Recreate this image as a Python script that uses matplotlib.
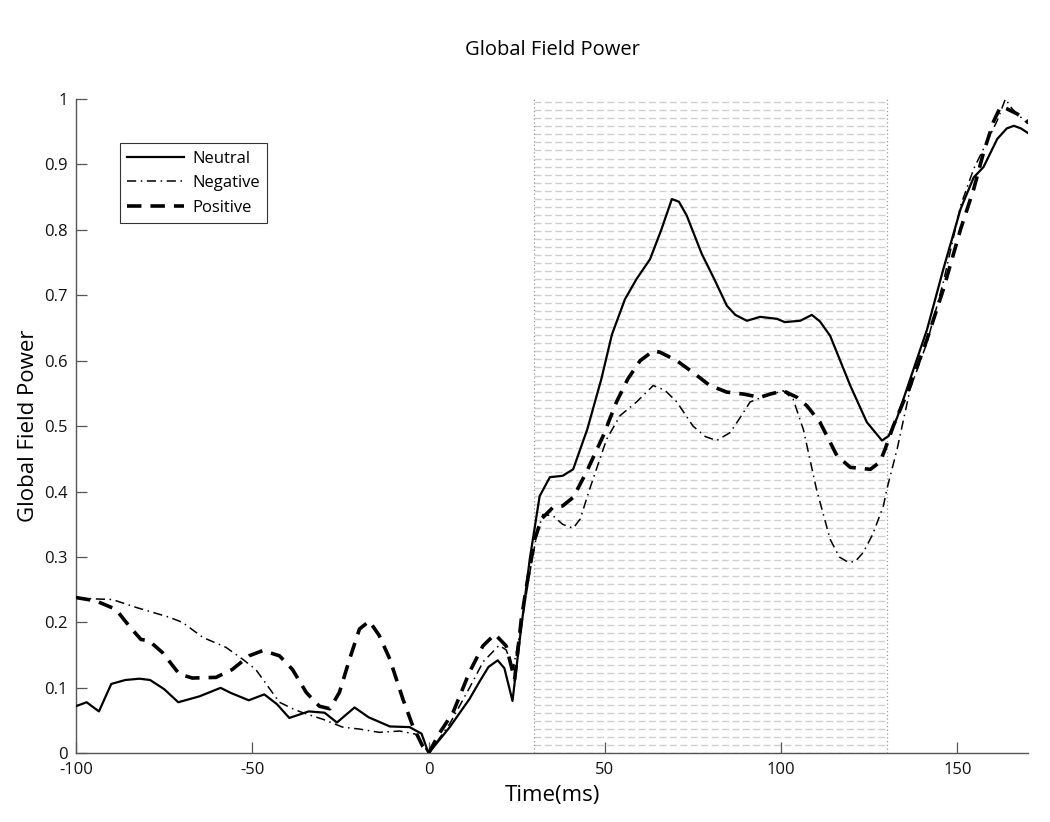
import numpy as np
import matplotlib
matplotlib.use("Agg")
import matplotlib.pyplot as plt

plt.rcParams['font.family'] = ['Open Sans', 'DejaVu Sans']

# ---- data ----
neutral_t = [-100, -97, -93.5, -90, -86, -82, -79, -75, -71, -65, -59, -56, -51, -46.6, -43, -39.5,
             -34, -29.5, -26, -21, -17, -11, -5.4, -2, 0, 6, 11.6, 14.5, 17, 19.6, 21.5, 23.8, 26,
             28.7, 31.5, 34.4, 38, 41, 45, 49, 52, 55.7, 59, 62.8, 66, 69, 71, 73.2, 77.5, 81, 84.6,
             87, 90.3, 94, 98.8, 101, 105.4, 108.7, 111, 113.9, 119.6, 124.3, 128.6, 130.5, 132.9,
             136.6, 141.4, 146, 150.9, 154.6, 157.4, 161.3, 164, 166, 168, 170]
neutral_v = [0.072, 0.078, 0.064, 0.106, 0.112, 0.114, 0.112, 0.098, 0.078, 0.087, 0.100, 0.092,
             0.081, 0.090, 0.075, 0.054, 0.064, 0.062, 0.047, 0.070, 0.055, 0.041, 0.040, 0.030,
             0.000, 0.040, 0.083, 0.110, 0.132, 0.142, 0.130, 0.080, 0.180, 0.297, 0.393, 0.422,
             0.424, 0.434, 0.495, 0.572, 0.640, 0.694, 0.725, 0.755, 0.800, 0.847, 0.843, 0.822,
             0.763, 0.725, 0.684, 0.670, 0.661, 0.667, 0.664, 0.659, 0.661, 0.670, 0.660, 0.638,
             0.562, 0.506, 0.478, 0.485, 0.513, 0.572, 0.648, 0.740, 0.832, 0.880, 0.896, 0.939,
             0.955, 0.959, 0.955, 0.948]

negative_t = [-100, -95, -89.7, -83, -78, -73.6, -69.8, -64, -57.5, -52.8, -49, -45, -42.3, -38.5,
              -35.7, -30, -24.4, -19.6, -14, -8.2, -3.5, 0, 6, 11.6, 15.5, 20, 22, 24, 26.5, 28.5,
              30.6, 32.4, 35.3, 38, 41, 43, 45.7, 50.5, 54.3, 59, 63.7, 67, 70.4, 75, 78.5, 81.7,
              85.5, 88, 91.2, 96, 100.6, 103.4, 106.3, 110, 113.9, 116.5, 119, 121, 123.3, 126, 129,
              130, 132.9, 136.6, 141.4, 146, 150.9, 154.6, 157.4, 161.3, 163.6, 165.5, 167, 170]
negative_v = [0.238, 0.236, 0.235, 0.223, 0.215, 0.208, 0.200, 0.177, 0.162, 0.144, 0.128, 0.098,
              0.078, 0.068, 0.062, 0.052, 0.040, 0.037, 0.032, 0.034, 0.029, 0.000, 0.045, 0.100,
              0.140, 0.165, 0.158, 0.130, 0.200, 0.270, 0.332, 0.365, 0.363, 0.350, 0.344, 0.358,
              0.404, 0.480, 0.516, 0.537, 0.562, 0.555, 0.537, 0.500, 0.484, 0.478, 0.490, 0.510,
              0.537, 0.547, 0.554, 0.541, 0.495, 0.404, 0.327, 0.300, 0.292, 0.293, 0.307, 0.335,
              0.378, 0.404, 0.465, 0.557, 0.628, 0.720, 0.837, 0.893, 0.924, 0.967, 1.000, 0.985,
              0.977, 0.962]

positive_t = [-100, -94.4, -88.7, -85, -81.6, -79.3, -75.5, -70.7, -67, -60.3, -55.7, -50.9, -47,
              -42.3, -38.6, -34.7, -31, -28, -25.3, -22.4, -19.6, -16.8, -14, -11, -7.3, -4.5, -1.7,
              0, 3, 6.9, 11.6, 15.4, 18.8, 22, 24.4, 26.3, 27.8, 30.1, 32, 35.3, 38, 41, 44.8, 49.5,
              53.3, 56.5, 60, 63.7, 65.6, 70.4, 75, 79.8, 84.6, 89.3, 94, 96.9, 100.6, 104.5, 107.3,
              111, 115.8, 119.6, 125.3, 128, 129.5, 131.8, 136.6, 141.4, 146, 150.9, 154.6, 157.4,
              160.2, 162.2, 164, 167, 170]
positive_v = [0.238, 0.233, 0.220, 0.195, 0.174, 0.172, 0.154, 0.121, 0.115, 0.116, 0.128, 0.149,
              0.157, 0.149, 0.128, 0.093, 0.072, 0.068, 0.093, 0.144, 0.190, 0.202, 0.180, 0.144,
              0.083, 0.042, 0.011, 0.000, 0.030, 0.062, 0.124, 0.164, 0.182, 0.164, 0.113, 0.205,
              0.256, 0.327, 0.358, 0.376, 0.378, 0.391, 0.430, 0.485, 0.537, 0.572, 0.600, 0.615,
              0.613, 0.600, 0.582, 0.562, 0.552, 0.549, 0.544, 0.549, 0.554, 0.544, 0.531, 0.506,
              0.455, 0.437, 0.434, 0.445, 0.465, 0.500, 0.562, 0.633, 0.709, 0.801, 0.862, 0.918,
              0.965, 0.988, 0.985, 0.977, 0.965]

window = [30, 130]
xticks = [-100, -50, 0, 50, 100, 150]
yticks = [0, 0.1, 0.2, 0.3, 0.4, 0.5, 0.6, 0.7, 0.8, 0.9, 1.0]
ytick_labels = ['0', '0.1', '0.2', '0.3', '0.4', '0.5', '0.6', '0.7', '0.8', '0.9', '1']

fig = plt.figure(figsize=(10.5, 8.22), dpi=100)
ax = fig.add_axes([0.0724, 0.0836, 0.9066, 0.796])

# shaded analysis window: hatch of horizontal dashed lines
for yy in np.linspace(0.0, 0.995, 82):
    ax.plot(window, [yy, yy], color='#cfcfcf', lw=1.0, ls=(0, (5, 2.5)), zorder=1)
for xx in window:
    ax.axvline(xx, color='#999999', lw=0.9, ls=(0, (1, 2)), zorder=1)

ax.plot(neutral_t, neutral_v, color='black', lw=1.6, ls='-', label='Neutral', zorder=3)
ax.plot(negative_t, negative_v, color='black', lw=1.1, ls=(0, (6, 3, 1, 3)), label='Negative', zorder=3)
ax.plot(positive_t, positive_v, color='black', lw=2.6, ls=(0, (4, 2.5)), label='Positive', zorder=3)

ax.set_xlim(-100, 170)
ax.set_ylim(0, 1)
ax.set_xticks(xticks)
ax.set_xticklabels([str(t) for t in xticks])
ax.set_yticks(yticks)
ax.set_yticklabels(ytick_labels)
ax.tick_params(direction='in', length=8, width=0.9, color='#555555', labelsize=12,
               labelcolor='#111111', pad=6)
for s in ['top', 'right']:
    ax.spines[s].set_visible(False)
for s in ['left', 'bottom']:
    ax.spines[s].set_color('#555555')
    ax.spines[s].set_linewidth(1.0)

ax.set_xlabel('Time(ms)', fontsize=16, labelpad=5)
ax.set_ylabel('Global Field Power', fontsize=16, labelpad=4)
ax.set_title('Global Field Power', fontsize=14.5, pad=32)

leg = ax.legend(loc='upper left', bbox_to_anchor=(0.046, 0.932), frameon=True, fancybox=False,
                shadow=False, fontsize=12, handlelength=3.4, borderpad=0.45, labelspacing=0.5,
                handletextpad=0.5, borderaxespad=0)
leg.get_frame().set_edgecolor('black')
leg.get_frame().set_linewidth(0.8)

fig.savefig('out.png', dpi=100)
